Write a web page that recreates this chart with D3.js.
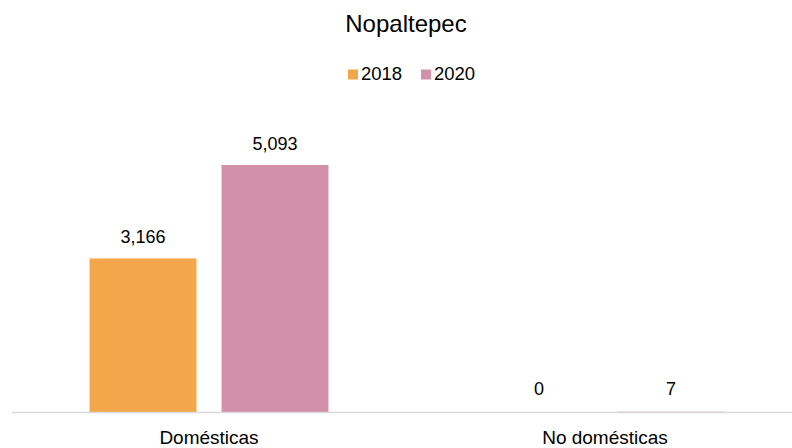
<!DOCTYPE html>
<html><head><meta charset="utf-8">
<script src="https://cdn.jsdelivr.net/npm/d3@7"></script>
<style>body{margin:0;background:#fff}svg{display:block;font-family:"Liberation Sans",Arial,sans-serif}</style>
</head><body>
<svg id="c" width="792" height="448"></svg>
<script>
const title = "Nopaltepec";
const categories = ["Domésticas", "No domésticas"];
const seriesNames = ["2018", "2020"];
const values2018 = [3166, 0];
const values2020 = [5093, 7];
const colors = ["#F4A64A", "#D291A8"];

const svg = d3.select("#c");
const W = 792, H = 448;
const baseY = 412;
const x0 = d3.scaleBand().domain(categories).range([11, 803]).paddingInner(0).paddingOuter(0);
const x1 = d3.scaleBand().domain(seriesNames).range([0, x0.bandwidth()]).paddingInner(0.19).paddingOuter(0.595);
const y = d3.scaleLinear().domain([0, 5093]).range([baseY, 165]);
const color = d3.scaleOrdinal().domain(seriesNames).range(colors);
const fmt = d3.format(",");

const data = categories.map((c, i) => ({cat: c, vals: [
  {s: seriesNames[0], v: values2018[i]},
  {s: seriesNames[1], v: values2020[i]}
]}));

svg.append("text").attr("x", 406).attr("y", 32).attr("text-anchor", "middle")
  .attr("font-size", 24).attr("fill", "#000").text(title);

// legend
const leg = svg.append("g");
const legX = [348, 421];
seriesNames.forEach((s, i) => {
  leg.append("rect").attr("x", legX[i]).attr("y", 69.5).attr("width", 10).attr("height", 10).attr("fill", color(s));
  leg.append("text").attr("x", legX[i] + 13).attr("y", 80).attr("font-size", 18.5).attr("fill", "#000").text(s);
});

const g = svg.selectAll("g.cat").data(data).join("g").attr("class", "cat")
  .attr("transform", d => `translate(${x0(d.cat)},0)`);
g.selectAll("rect").data(d => d.vals).join("rect")
  .attr("x", d => x1(d.s)).attr("width", x1.bandwidth())
  .attr("y", d => y(d.v)).attr("height", d => Math.max(baseY - y(d.v), d.v > 0 ? 1 : 0))
  .attr("fill", d => color(d.s));
g.selectAll("text.v").data(d => d.vals).join("text").attr("class", "v")
  .attr("x", d => x1(d.s) + x1.bandwidth()/2).attr("y", d => Math.min(y(d.v), baseY - 2) - 15)
  .attr("text-anchor", "middle").attr("font-size", 18).attr("fill", "#000").text(d => fmt(d.v));

// axis
const ax = svg.append("g").attr("transform", `translate(0,${baseY})`)
  .call(d3.axisBottom(x0).tickSize(0));
ax.select(".domain").attr("stroke", "#d9d9d9").attr("stroke-width", 1.5);
ax.selectAll("text").attr("y", 32).attr("dy", 0).attr("font-size", 19).attr("fill", "#000")
  .attr("font-family", "Liberation Sans, Arial, sans-serif");
</script>
</body></html>
